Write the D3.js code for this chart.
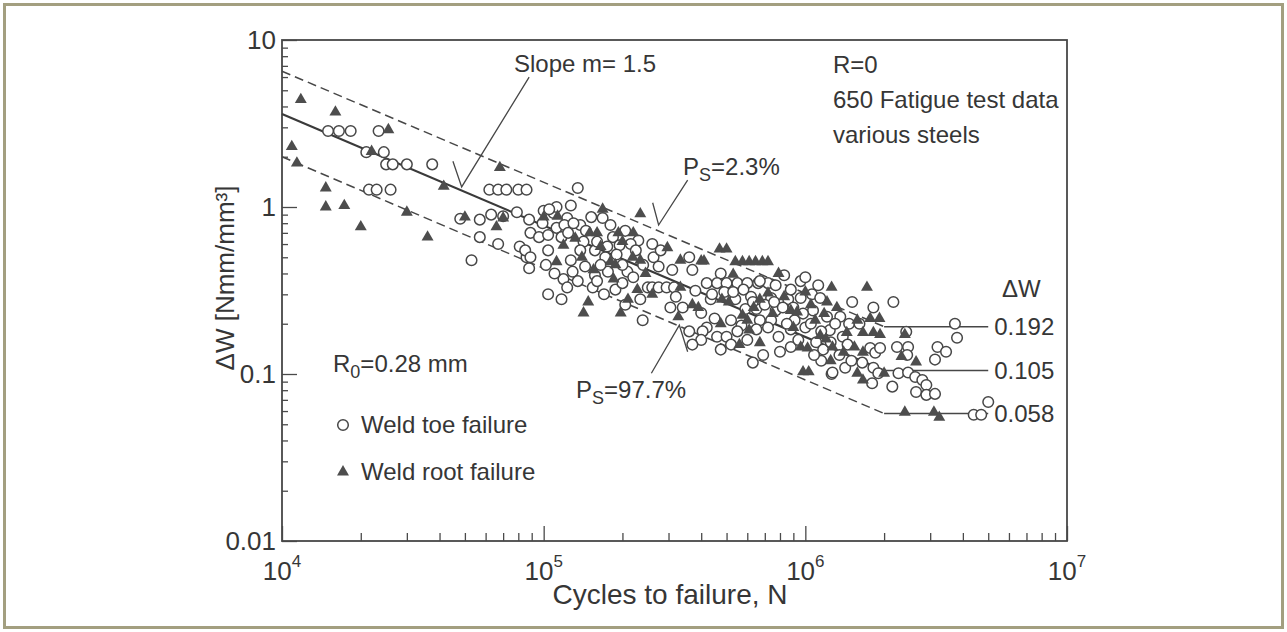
<!DOCTYPE html>
<html lang="en">
<head>
<meta charset="UTF-8">
<title>Fatigue test data - ΔW vs cycles to failure</title>
<script src="https://d3js.org/d3.v7.min.js"></script>
<style>
  body { margin: 0; background: #fff; }
  svg text { font-family: "Liberation Sans", Arial, Helvetica, sans-serif; fill: #363636; }
  .axis line { stroke: #4a4a4a; stroke-width: 1.3; }
</style>
</head>
<body>
<svg id="chart" width="1287" height="632"></svg>
<script>
// ---- data ----
const xMajor = [1e4, 1e5, 1e6, 1e7];
const xExp = ["4", "5", "6", "7"];
const yMajor = [0.01, 0.1, 1, 10];
const yLabels = ["0.01", "0.1", "1", "10"];

// scatter band lines: sloped part, then horizontal cut-off
const upperSlope = [[1e4, 6.5], [2e6, 0.192]];   // Ps = 2.3 %
const meanSlope  = [[1e4, 3.6], [2e6, 0.105]];
const lowerSlope = [[1e4, 2.0], [2e6, 0.058]];   // Ps = 97.7 %
const kneeN = 2e6, endN = 5.0e6;
const levels = [0.192, 0.105, 0.058];
const levelLabels = ["0.192", "0.105", "0.058"];

// leaders [N, dW]
const slopeLeader = [[8.8e4, 6.0], [4.86e4, 1.32], [4.5e4, 1.88]];
const ps23Leader  = [[3.55e5, 1.45], [2.75e5, 0.78], [2.61e5, 1.06]];
const ps977Leader = [[2.58e5, 0.101], [3.30e5, 0.196], [3.55e5, 0.136]];

// weld toe failure (open circles)
const toeFailure = [
  [1.5e4,2.85],[1.65e4,2.85],[1.83e4,2.85],[2.34e4,2.85],[2.1e4,2.13],[2.45e4,2.13],[2.5e4,1.8],[2.65e4,1.8],
  [3.0e4,1.8],[3.75e4,1.8],[2.15e4,1.27],[2.3e4,1.27],[2.6e4,1.27],[6.2e4,1.27],[6.7e4,1.27],[7.2e4,1.27],
  [8.0e4,1.27],[8.6e4,1.27],[4.8e4,0.85],[5.7e4,0.84],[6.3e4,0.9],[7.0e4,0.88],[7.9e4,0.93],[8.8e4,0.84],
  [9.9e4,0.8],[1.09e5,0.92],[5.7e4,0.66],[8.9e4,0.7],[9.6e4,0.66],[1.04e5,0.68],[5.3e4,0.48],[1.35e5,1.3],
  [8.8e4,0.43],[8.6e4,0.5],[1.52e5,0.87],[1.68e5,0.86],[1.23e5,0.86],[1.84e5,0.66],[2.3e5,0.63],[2.63e5,0.5],
  [1.27e5,0.48],[1.44e5,0.44],[1.29e5,0.41],[1.19e5,0.37],[1.54e5,0.33],[1.23e5,0.33],[1.76e5,0.41],[2.09e5,0.41],
  [2.34e5,0.28],[2.39e5,0.21],[2.5e5,0.33],[2.6e5,0.33],[2.75e5,0.33],[2.95e5,0.33],[3.15e5,0.33],[3.1e5,0.42],
  [3.7e5,0.42],[4.75e5,0.4],[4.2e5,0.35],[4.6e5,0.35],[5.0e5,0.35],[5.5e5,0.35],[6.0e5,0.35],[6.6e5,0.35],
  [7.2e5,0.35],[3.05e5,0.25],[3.4e5,0.25],[3.2e5,0.29],[4.0e5,0.232],[4.2e5,0.19],[4.05e5,0.18],[4.6e5,0.167],
  [5.0e5,0.167],[6.0e5,0.16],[7.9e5,0.167],[8.0e5,0.136],[6.3e5,0.117],[6.9e5,0.13],[7.7e5,0.24],[8.6e5,0.28],
  [9.6e5,0.285],[1.07e6,0.24],[1.21e6,0.22],[1.26e6,0.1],[8.8e5,0.145],[1.17e5,0.28],[1.7e5,0.3],
  [1.51e6,0.27],[1.82e6,0.25],[2.17e6,0.27],[1.36e6,0.22],[1.47e6,0.2],[1.61e6,0.2],[1.24e6,0.183],[1.39e6,0.167],
  [1.77e6,0.143],[1.85e6,0.134],[1.93e6,0.143],[2.24e6,0.145],[2.43e6,0.179],[2.47e6,0.145],[2.45e6,0.13],
  [3.2e6,0.145],[3.45e6,0.136],[3.13e6,0.122],[3.73e6,0.2],[3.8e6,0.165],[1.27e6,0.102],[1.42e6,0.109],
  [1.82e6,0.109],[1.9e6,0.101],[2.27e6,0.101],[2.47e6,0.102],[2.63e6,0.096],[2.8e6,0.092],[2.9e6,0.086],
  [1.8e6,0.088],[2.15e6,0.084],[2.65e6,0.078],[2.9e6,0.075],[3.13e6,0.076],[4.4e6,0.057],[4.7e6,0.057],[5.0e6,0.068],
  [9.6e5,0.36],[1.0e6,0.38],[1.12e6,0.34],[1.06e6,0.3],[1.14e6,0.285],[9.1e5,0.21],[1.0e6,0.19],[8.8e5,0.185],
  [1.1e6,0.155],[1.17e6,0.14],[1.35e6,0.13],[1.5e6,0.12],[1.65e6,0.117],[1.15e6,0.12],[7.4e5,0.21],[6.7e5,0.21],
  [5.9e5,0.245],[5.4e5,0.28],[6.2e5,0.29],[5.7e5,0.195],[5.2e5,0.21],[4.5e5,0.215],[4.75e5,0.14],[5.2e5,0.15],
  [4.0e5,0.16],[3.6e5,0.18],[3.7e5,0.15],[4.35e5,0.28],[4.9e5,0.31],[3.8e5,0.315],[6.7e5,0.36],[7.7e5,0.34],
  [8.3e5,0.39],[8.8e5,0.32],[7.4e5,0.285],[6.5e5,0.245],[1.12e5,0.75],[1.17e5,0.66],[1.04e5,0.55],[1.02e5,0.45],
  [1.1e5,0.4],[1.04e5,0.3],[1.42e5,0.62],[1.57e5,0.55],[1.72e5,0.5],[1.38e5,0.78],[1.8e5,0.78],[1.95e5,0.59],
  [2.05e5,0.72],[1.88e5,0.32],[2.05e5,0.26],[1.57e5,0.39],[1.38e5,0.55],[1.12e5,1.0],[1.27e5,1.02],[8.1e4,0.58],
  [8.5e4,0.55],[8.9e4,0.5],[6.7e4,0.6],[2.6e5,0.6],[2.8e5,0.55],[2.75e5,0.44],[3.6e5,0.5],[1.0e5,0.95],
  [1.05e5,0.97],[1.2e5,0.78],[1.24e5,0.7],
  [1.3e5,0.8],[1.45e5,0.72],[1.6e5,0.62],[1.65e5,0.45],[1.75e5,0.58],[1.9e5,0.52],[2.0e5,0.45],[2.15e5,0.6],
  [2.25e5,0.55],[2.4e5,0.45],[1.35e5,0.36],[1.6e5,0.36],[2.0e5,0.35],[2.2e5,0.38],
  [4.4e5,0.3],[5.3e5,0.31],[5.8e5,0.32],[6.3e5,0.27],[7.0e5,0.26],[7.6e5,0.27],[8.2e5,0.25],[9.0e5,0.25],
  [9.8e5,0.23],[1.05e6,0.2],[1.15e6,0.18],[1.25e6,0.155],[1.3e6,0.2],[1.45e6,0.15],[8.5e5,0.2],[7.2e5,0.19],
  [6.5e5,0.185],[5.5e5,0.18],[1.08e6,0.13],[9.4e5,0.16]
];

// weld root failure (filled triangles)
const rootFailure = [
  [1.18e4,4.4],[1.6e4,3.7],[2.55e4,2.9],[1.09e4,2.3],[1.14e4,1.83],[1.47e4,1.3],[1.47e4,1.0],[1.73e4,1.02],
  [2.0e4,0.76],[3.0e4,0.93],[4.15e4,1.33],[6.8e4,1.72],[5.0e4,0.87],[3.6e4,0.66],[2.2e4,2.15],
  [1.68e5,0.97],[2.34e5,0.91],[1.5e5,0.7],[1.6e5,0.7],[1.93e5,0.7],[2.2e5,0.7],[2.97e5,0.57],[3.33e5,0.48],
  [4.0e5,0.475],[4.1e5,0.475],[4.7e5,0.56],[5.0e5,0.56],[5.4e5,0.47],[5.75e5,0.47],[6.1e5,0.47],[6.45e5,0.47],
  [6.85e5,0.47],[7.2e5,0.47],[7.9e5,0.4],[5.3e5,0.395],[1.42e5,0.232],[1.97e5,0.232],[3.33e5,0.33],[3.7e5,0.26],
  [3.9e5,0.25],[3.27e5,0.22],[6.1e5,0.183],[5.75e5,0.225],[6.35e5,0.25],[7.2e5,0.305],[9.6e5,0.145],[1.02e6,0.143],
  [9.8e5,0.103],[1.03e6,0.103],[6.7e5,0.154],[1.8e5,0.47],[1.88e5,0.45],[2.19e5,0.5],[2.34e5,0.48],[1.85e5,0.37],
  [2.28e5,0.32],[1.26e6,0.33],[1.72e6,0.33],[1.32e6,0.25],[1.21e6,0.27],[1.77e6,0.215],[1.92e6,0.215],[1.58e6,0.21],
  [1.44e6,0.177],[1.66e6,0.177],[1.82e6,0.177],[1.93e6,0.172],[2.4e6,0.172],[1.54e6,0.145],[1.66e6,0.135],
  [2.33e6,0.127],[2.65e6,0.118],[1.58e6,0.101],[2.0e6,0.101],[1.66e6,0.092],[2.4e6,0.059],[3.1e6,0.059],
  [3.25e6,0.055],[1.27e6,0.145],[1.0e5,0.87],[1.13e5,0.88],[6.6e4,0.76],[7.0e4,0.86],[1.19e5,0.59],[1.12e5,0.47],
  [1.32e5,0.65],[6.7e5,0.28],[8.8e5,0.24],[9.3e5,0.235],[1.09e6,0.21],[1.14e6,0.17],[1.2e6,0.162],[4.8e5,0.28],
  [5.1e5,0.27],[2.6e5,0.3],[1.48e5,0.27],[4.75e5,0.2],[5.6e5,0.15],[1.0e6,0.31],
  [1.4e5,0.5],[1.65e5,0.58],[2.0e5,0.62],[2.45e5,0.4],[1.55e5,0.42],[2.1e5,0.28],
  [7.5e5,0.23],[8.3e5,0.29],[9.0e5,0.19],[1.05e6,0.26],[1.18e6,0.23],[6.0e5,0.21],[1.4e6,0.135],[1.25e6,0.12]
];

// ---- drawing ----
const ink = "#474747";
const svg = d3.select("#chart");

// outer frame of the figure
svg.append("rect")
  .attr("x", 4.5).attr("y", 4.5).attr("width", 1278).attr("height", 623)
  .attr("fill", "#fff").attr("stroke", "#a39f80").attr("stroke-width", 3);

const x = d3.scaleLog().domain([1e4, 1e7]).range([282, 1067]);
const y = d3.scaleLog().domain([0.01, 10]).range([541, 40]);

const xMinor = x.ticks().filter(v => !xMajor.includes(v));
const yMinor = y.ticks().filter(v => !yMajor.includes(v));

// inward ticks
function tickAxis(axis, values, size, transform) {
  svg.append("g").attr("class", "axis").attr("transform", transform)
    .call(axis.tickValues(values).tickSize(size).tickFormat(""))
    .call(g => g.select(".domain").remove());
}
tickAxis(d3.axisBottom(x), xMinor, -8, "translate(0,541)");
tickAxis(d3.axisBottom(x), xMajor, -15, "translate(0,541)");
tickAxis(d3.axisLeft(y), yMinor, -6, "translate(282,0)");
tickAxis(d3.axisLeft(y), yMajor, -15, "translate(282,0)");

svg.append("rect")
  .attr("x", 282).attr("y", 40).attr("width", 785).attr("height", 501)
  .attr("fill", "none").attr("stroke", ink).attr("stroke-width", 1.8);

// tick labels
svg.selectAll(".ylab").data(yMajor).join("text")
  .attr("x", 276).attr("y", d => y(d))
  .attr("text-anchor", "end").attr("dominant-baseline", "central")
  .attr("font-size", 26).text((d, i) => yLabels[i]);

const xl = svg.selectAll(".xlab").data(xMajor).join("text")
  .attr("x", d => x(d)).attr("y", 580)
  .attr("text-anchor", "middle").attr("font-size", 26);
xl.append("tspan").text("10");
xl.append("tspan").attr("font-size", 17).attr("dy", -13).text((d, i) => xExp[i]);

// axis titles
svg.append("text").attr("x", 670).attr("y", 604).attr("text-anchor", "middle")
  .attr("font-size", 28).text("Cycles to failure, N");
svg.append("text").attr("transform", "translate(234,278) rotate(-90)")
  .attr("text-anchor", "middle").attr("font-size", 26).text("ΔW [Nmm/mm³]");

// band lines
const line = d3.line().x(d => x(d[0])).y(d => y(d[1]));
[upperSlope, lowerSlope].forEach(s => {
  svg.append("path").attr("d", line(s)).attr("fill", "none")
    .attr("stroke", ink).attr("stroke-width", 1.5).attr("stroke-dasharray", "9,5");
});
svg.append("path").attr("d", line(meanSlope)).attr("fill", "none")
  .attr("stroke", "#3a3a3a").attr("stroke-width", 2.2);
levels.forEach(v => {
  svg.append("path").attr("d", line([[kneeN, v], [endN, v]])).attr("fill", "none")
    .attr("stroke", ink).attr("stroke-width", 1.5);
});
svg.selectAll(".lvl").data(levels).join("text")
  .attr("x", x(endN) + 6).attr("y", d => y(d))
  .attr("dominant-baseline", "central").attr("font-size", 24)
  .text((d, i) => levelLabels[i]);
svg.append("text").attr("x", 1002).attr("y", 297).attr("font-size", 24).text("ΔW");

// leaders
[slopeLeader, ps23Leader, ps977Leader].forEach(l => {
  svg.append("path").attr("d", line(l)).attr("fill", "none")
    .attr("stroke", ink).attr("stroke-width", 1.3);
});

// points
svg.append("g").selectAll("circle").data(toeFailure).join("circle")
  .attr("cx", d => x(d[0])).attr("cy", d => y(d[1])).attr("r", 5.3)
  .attr("fill", "#fff").attr("stroke", ink).attr("stroke-width", 1.5);

const tri = d3.symbol().type(d3.symbolTriangle).size(62);
svg.append("g").selectAll("path").data(rootFailure).join("path")
  .attr("transform", d => `translate(${x(d[0])},${y(d[1])})`)
  .attr("d", tri).attr("fill", "#4d4d4d");

// annotations
svg.append("text").attr("x", 514).attr("y", 72).attr("font-size", 24).text("Slope m= 1.5");
svg.append("text").attr("x", 833).attr("y", 73).attr("font-size", 24).text("R=0");
svg.append("text").attr("x", 833).attr("y", 108).attr("font-size", 24).text("650 Fatigue test data");
svg.append("text").attr("x", 833).attr("y", 143).attr("font-size", 24).text("various steels");

function psLabel(px, py, value) {
  const t = svg.append("text").attr("x", px).attr("y", py).attr("font-size", 24);
  t.append("tspan").text("P");
  t.append("tspan").attr("font-size", 18).attr("dy", 6).text("S");
  t.append("tspan").attr("dy", -6).text(value);
}
psLabel(683, 175, "=2.3%");
psLabel(576, 398, "=97.7%");

const r0 = svg.append("text").attr("x", 333).attr("y", 372).attr("font-size", 24);
r0.append("tspan").text("R");
r0.append("tspan").attr("font-size", 18).attr("dy", 6).text("0");
r0.append("tspan").attr("dy", -6).text("=0.28 mm");

// legend
svg.append("circle").attr("cx", 343).attr("cy", 425).attr("r", 5.3)
  .attr("fill", "#fff").attr("stroke", ink).attr("stroke-width", 1.5);
svg.append("text").attr("x", 361).attr("y", 433).attr("font-size", 24).text("Weld toe failure");
svg.append("path").attr("transform", "translate(343,472)").attr("d", tri).attr("fill", "#4d4d4d");
svg.append("text").attr("x", 361).attr("y", 480).attr("font-size", 24).text("Weld root failure");
</script>
</body>
</html>
